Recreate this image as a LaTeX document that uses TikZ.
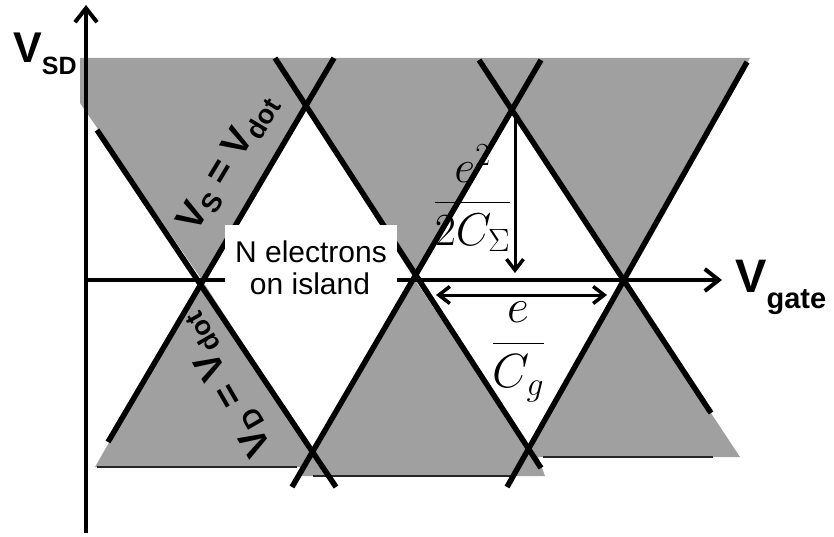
\RequirePackage{fix-cm}
\documentclass[tikz,border=0pt]{standalone}
\usepackage{fontspec}
\newfontfamily\arial{Liberation Sans}
\usetikzlibrary{arrows.meta}
\definecolor{grayfill}{RGB}{160,160,160}
\begin{document}
\begin{tikzpicture}[x=1pt,y=-1pt,
  ridge/.style={line width=5.5pt},
  edgeline/.style={line width=1.8pt, black!85},
  axisline/.style={line width=4pt, -{Straight Barb[length=14pt,width=22pt,line width=4pt]}},
  dimline/.style={line width=3pt, -{Straight Barb[length=11pt,width=17pt,line width=3.5pt]}},
  dimboth/.style={line width=3pt, {Straight Barb[length=11pt,width=17pt,line width=3.5pt]}-{Straight Barb[length=11pt,width=17pt,line width=3.5pt]}},
  lbl/.style={inner sep=0pt, font=\arial\bfseries},
  plain/.style={inner sep=0pt, font=\arial\fontsize{30}{32}\selectfont}]
\useasboundingbox (0,0) rectangle (834,537);
% lattice points
\coordinate (A0) at (202,280);
\coordinate (A1) at (415,280);
\coordinate (A2) at (623,280);
\coordinate (U1) at (306,107);
\coordinate (U2) at (512,110);
\coordinate (D1) at (313,452);
\coordinate (D2) at (528,450);
% shaded regions
\fill[grayfill] (80,58) -- (750,58) -- (A2) -- (U2) -- (A1) -- (U1) -- (A0) -- (80,103) -- cycle;
\fill[grayfill] (95,467) -- (A0) -- (D1) -- (A1) -- (D2) -- (A2) -- (740,457) -- (538,457)
  -- (545,476) -- (300,476) -- (300,467) -- cycle;
% bottom edges
\coordinate (b1a) at (97,467); \coordinate (b1b) at (297,467);
\coordinate (b2a) at (313,476); \coordinate (b2b) at (510,476);
\coordinate (b3a) at (543,457); \coordinate (b3b) at (713,457);
\draw[edgeline] (b1a) -- (b1b);
\draw[edgeline] (b2a) -- (b2b);
\draw[edgeline] (b3a) -- (b3b);
% boundary lines
\coordinate (L1a) at (97,130);  \coordinate (L1b) at (336,487);
\coordinate (L2a) at (108,442); \coordinate (L2b) at (334,58);
\coordinate (L3a) at (275,58);  \coordinate (L3b) at (541,468);
\coordinate (L4a) at (292,487); \coordinate (L4b) at (541,60);
\coordinate (L5a) at (479,60);  \coordinate (L5b) at (711,413);
\coordinate (L6a) at (507,487); \coordinate (L6b) at (747,62);
\draw[ridge] (L1a) -- (L1b);
\draw[ridge] (L2a) -- (L2b);
\draw[ridge] (L3a) -- (L3b);
\draw[ridge] (L4a) -- (L4b);
\draw[ridge] (L5a) -- (L5b);
\draw[ridge] (L6a) -- (L6b);
% axes
\coordinate (O) at (86,280);
\coordinate (ybot) at (86,533);
\coordinate (ytop) at (86,5);
\coordinate (xend) at (722,280);
\draw[axisline] (ybot) -- (ytop);
\draw[axisline] (O) -- (xend);
% white label box
\fill[white] (225,225) rectangle (397,300);
\node[plain, anchor=base] (t1) at (311,262) {N electrons};
\node[plain, anchor=base] (t2) at (310,294) {on island};
% axis labels
\node[lbl, anchor=base west] (vsd) at (13,63)
  {\fontsize{43}{45}\selectfont V\raisebox{-12pt}{\fontsize{25}{26}\selectfont SD}};
\node[lbl, anchor=base west] (vgate) at (735,292)
  {\fontsize{47}{49}\selectfont V\raisebox{-16pt}{\fontsize{29}{30}\selectfont gate}};
% line labels
\node[lbl, rotate=59] (vs) at (228,163)
  {\fontsize{38}{40}\selectfont V\raisebox{-7pt}{\fontsize{27}{28}\selectfont S} = V\raisebox{-7pt}{\fontsize{27}{28}\selectfont dot}};
\node[lbl, rotate=120] (vd) at (225,385)
  {\fontsize{38}{40}\selectfont V\raisebox{-7pt}{\fontsize{27}{28}\selectfont D} = V\raisebox{-7pt}{\fontsize{27}{28}\selectfont dot}};
% dimension arrows
\coordinate (vtop) at (515,113);
\coordinate (vbot) at (515,273);
\draw[dimline] (vtop) -- (vbot);
\coordinate (hl) at (436,295);
\coordinate (hr) at (607,295);
\draw[dimboth] (hl) -- (hr);
% fractions
\node[anchor=base, inner sep=0pt] (f1) at (472.5,213.5)
  {\fontsize{46}{50}\selectfont$\displaystyle\frac{e^2}{2C_\Sigma}$};
\node[anchor=base, inner sep=0pt] (f2) at (518.5,355)
  {\fontsize{48}{50}\selectfont$\displaystyle\frac{e}{C_g}$};
\end{tikzpicture}
\end{document}
